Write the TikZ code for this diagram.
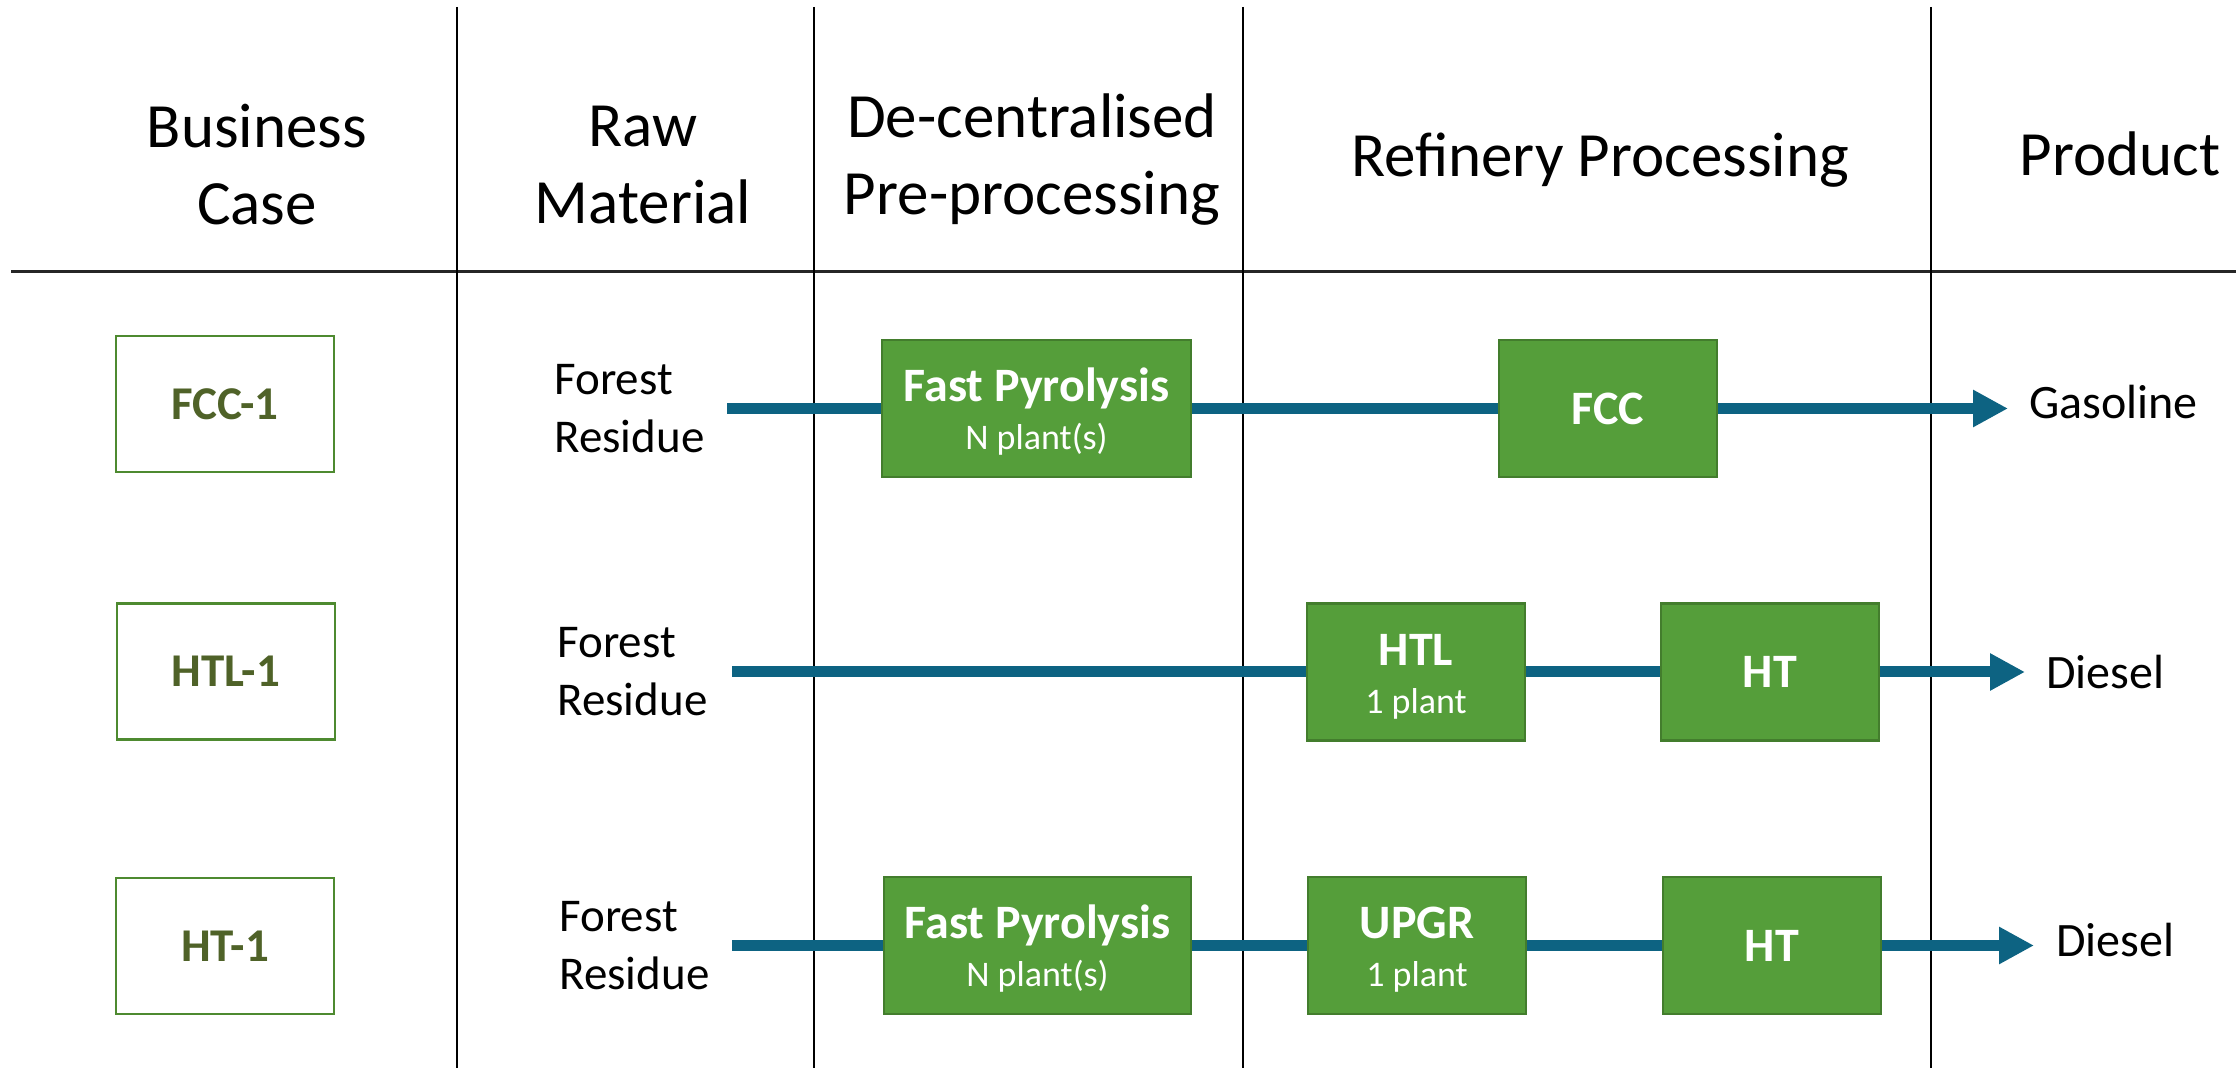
\documentclass[tikz,border=0pt]{standalone}
\usepackage{fontspec}
\setmainfont{Carlito}
\usetikzlibrary{arrows.meta}
\definecolor{procgreen}{HTML}{559E3A}
\definecolor{procedge}{HTML}{437D2D}
\definecolor{caseedge}{HTML}{4E8A30}
\definecolor{casetext}{HTML}{4F6228}
\definecolor{flowteal}{HTML}{0D6382}
\newcommand{\subline}[1]{{\fontsize{18}{24}\selectfont\mdseries #1}}
\newcommand{\topstrut}{\rule{0pt}{20pt}}
\begin{document}
\begin{tikzpicture}[x=0.5pt,y=-0.5pt,
 hdr/.style={inner sep=0pt, align=center, font=\fontsize{31.5}{38.5}\selectfont},
 rawlbl/.style={inner sep=0pt, align=left, anchor=west, font=\fontsize{23.5}{29}\selectfont},
 prodlbl/.style={inner sep=0pt, anchor=base west, font=\fontsize{24}{29}\selectfont},
 procbox/.style={draw=procedge, line width=1.2pt, fill=procgreen, text=white, align=center, inner sep=0pt, minimum height=68.5pt, font=\fontsize{24}{24}\selectfont\bfseries},
 casebox/.style={draw=caseedge, line width=1.3pt, fill=white, text=casetext, inner sep=0pt, minimum width=109pt, minimum height=68pt, font=\fontsize{23.5}{28}\selectfont\bfseries},
 flowline/.style={draw=flowteal, line width=5.5pt},
 flowarrow/.style={flowline, -{Triangle[length=17.5pt,width=17.5pt]}},
 gridline/.style={draw=black, line width=1pt}
]
\useasboundingbox (0,0) rectangle (2239,1068);
\fill[white] (0,0) rectangle (2239,1068);

% grid
\coordinate (hl) at (11,272);
\coordinate (hr) at (2236,272);
\draw[gridline, line width=1.5pt, draw=black!85] (hl) -- (hr);
\foreach \xx/\nm in {457/a,814/b,1243/c,1931/d}{
  \coordinate (vt\nm) at (\xx,7);
  \coordinate (vb\nm) at (\xx,1068);
  \draw[gridline] (vt\nm) -- (vb\nm);
}

% headers
\node[hdr] (hbus) at (257,165) {Business\\Case};
\node[hdr] (hraw) at (643,165) {Raw\\Material};
\node[hdr] (hdec) at (1032,159.5) {De-centralised\\Pre-processing};
\node[hdr, anchor=base] (href) at (1600,177) {Refinery Processing};
\node[hdr, anchor=base] (hprod) at (2120,176) {Product};

% business case boxes
\node[casebox] (c1) at (225,404) {FCC-1};
\node[casebox] (c2) at (226,671.5) {HTL-1};
\node[casebox] (c3) at (225,946) {HT-1};

% raw material labels
\node[rawlbl] (r1) at (554,409) {Forest\\Residue};
\node[rawlbl] (r2) at (557,672) {Forest\\Residue};
\node[rawlbl] (r3) at (559,945.5) {Forest\\Residue};

% process boxes
\node[procbox, minimum width=154.5pt] (fp1) at (1036.5,408.5) {\topstrut Fast Pyrolysis\\\subline{N plant(s)}};
\node[procbox, minimum width=109pt] (fcc) at (1608,408.5) {FCC};
\node[procbox, minimum width=109pt] (htl) at (1416,672) {\topstrut HTL\\\subline{1 plant}};
\node[procbox, minimum width=109pt] (ht2) at (1770,672) {HT};
\node[procbox, minimum width=153.5pt] (fp3) at (1037.5,945.5) {\topstrut Fast Pyrolysis\\\subline{N plant(s)}};
\node[procbox, minimum width=109pt] (upgr) at (1417,945.5) {\topstrut UPGR\\\subline{1 plant}};
\node[procbox, minimum width=109pt] (ht3) at (1772,945.5) {HT};

% products
\node[prodlbl] (p1) at (2029,419) {Gasoline};
\node[prodlbl] (p2) at (2046,689) {Diesel};
\node[prodlbl] (p3) at (2056,957) {Diesel};

% connectors
\coordinate (s1) at (727,408.5);
\coordinate (e1) at (2008,408.5);
\coordinate (s2) at (732,672);
\coordinate (e2) at (2025,672);
\coordinate (s3) at (732,945.5);
\coordinate (e3) at (2034,945.5);
\draw[flowline] (s1) -- (fp1.west);
\draw[flowline] (fp1.east) -- (fcc.west);
\draw[flowarrow] (fcc.east) -- (e1);
\draw[flowline] (s2) -- (htl.west);
\draw[flowline] (htl.east) -- (ht2.west);
\draw[flowarrow] (ht2.east) -- (e2);
\draw[flowline] (s3) -- (fp3.west);
\draw[flowline] (fp3.east) -- (upgr.west);
\draw[flowline] (upgr.east) -- (ht3.west);
\draw[flowarrow] (ht3.east) -- (e3);
\end{tikzpicture}
\end{document}
